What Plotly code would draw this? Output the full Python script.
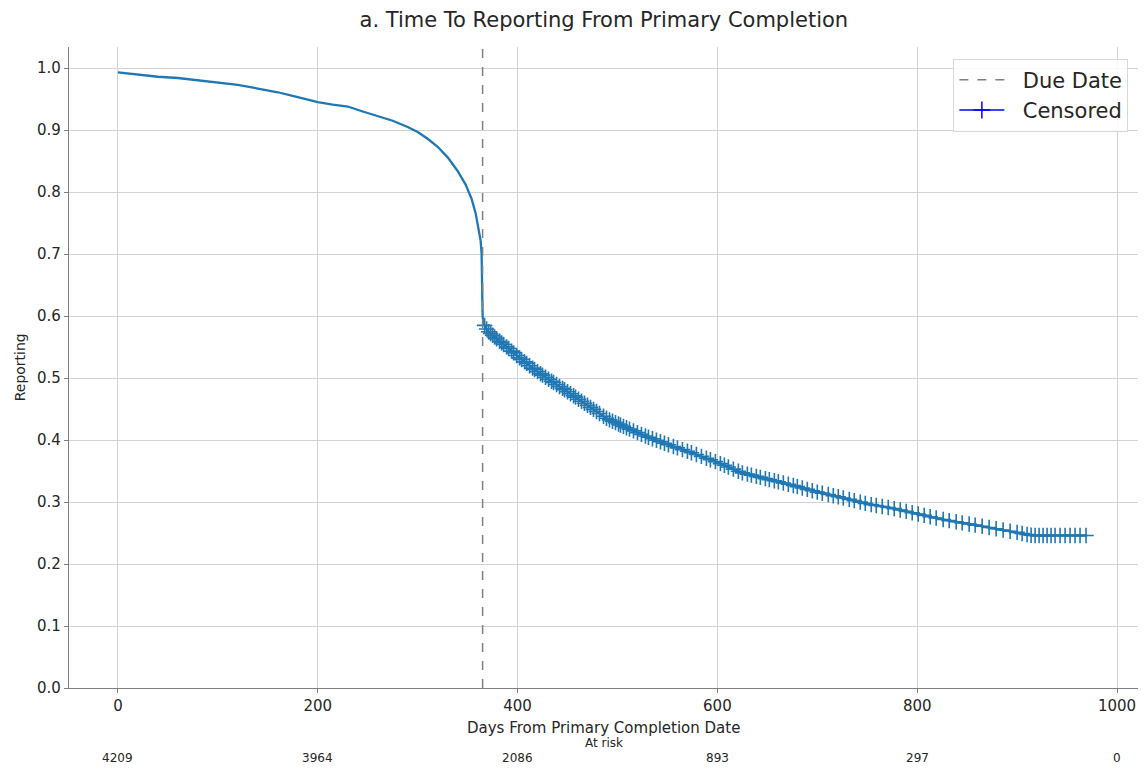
import numpy as np
import plotly.graph_objects as go

# Kaplan-Meier estimate of the share of trials not yet reporting
days = [0, 10, 25, 40, 60, 80, 100, 120, 140, 160, 180, 200, 215, 230, 245,
        260, 275, 290, 300, 310, 320, 330, 340, 348, 354, 358, 361, 363, 364,
        365, 366, 370, 380, 390, 400, 415, 430, 450, 470, 490, 510, 530, 550,
        575, 600, 625, 650, 675, 700, 725, 750, 775, 800, 825, 850, 875, 900,
        915, 930, 970]
reporting = [0.993, 0.991, 0.989, 0.986, 0.984, 0.980, 0.977, 0.973, 0.967,
             0.961, 0.953, 0.945, 0.941, 0.938, 0.930, 0.922, 0.915, 0.905,
             0.897, 0.886, 0.873, 0.856, 0.834, 0.812, 0.789, 0.766, 0.742,
             0.722, 0.700, 0.600, 0.588, 0.576, 0.562, 0.549, 0.535, 0.516,
             0.499, 0.478, 0.456, 0.434, 0.419, 0.405, 0.393, 0.379, 0.364,
             0.347, 0.337, 0.327, 0.316, 0.307, 0.297, 0.290, 0.281, 0.272,
             0.265, 0.258, 0.251, 0.246, 0.246, 0.246]

# Censoring times (days)
censored_days = [367, 369, 371, 373, 375, 377, 379, 382, 384, 386, 389, 391,
                 394, 396, 399, 402, 404, 407, 409, 412, 415, 417, 420, 423,
                 425, 428, 431, 434, 436, 439, 442, 445, 447, 450, 453, 456,
                 458, 461, 464, 467, 470, 473, 476, 479, 482, 486, 489, 492,
                 495, 498, 501, 503, 506, 509, 512, 516, 520, 524, 528, 531,
                 535, 539, 543, 547, 551, 556, 560, 565, 570, 574, 579, 584,
                 589, 593, 598, 603, 607, 611, 616, 621, 625, 630, 634, 639,
                 643, 648, 652, 657, 661, 666, 671, 676, 680, 685, 690, 695,
                 700, 705, 711, 716, 721, 726, 732, 737, 743, 748, 754, 759,
                 765, 771, 777, 783, 789, 795, 801, 807, 813, 819, 826, 832,
                 839, 845, 852, 858, 865, 872, 879, 886, 893, 900, 905, 910,
                 914, 918, 922, 926, 930, 934, 938, 943, 948, 953, 958, 963,
                 969]

due_date = 365

# Number at risk table
risk_days = [0, 200, 400, 600, 800, 1000]
risk_counts = [4209, 3964, 2086, 893, 297, 0]

x_range = [-49, 1021]
y_range = [0, 1.034]

C0 = "#1f77b4"
FONT = "DejaVu Sans"
TXT = "#262626"

censored_y = np.interp(censored_days, days, reporting)

fig = go.Figure()

fig.add_trace(go.Scatter(
    x=days, y=reporting, mode="lines",
    line=dict(color=C0, width=2.3), showlegend=False, hoverinfo="skip"))

fig.add_trace(go.Scatter(
    x=censored_days, y=censored_y, mode="markers",
    marker=dict(symbol="cross-thin", size=11, color=C0,
                line=dict(color=C0, width=1.6)),
    showlegend=False))

fig.add_trace(go.Scatter(
    x=[due_date, due_date], y=y_range, mode="lines",
    line=dict(color="#808080", width=1.5, dash="dash"),
    name="  Due Date"))

fig.add_trace(go.Scatter(
    x=[None], y=[None], mode="lines+markers",
    line=dict(color="blue", width=1.5),
    marker=dict(symbol="cross-thin", size=12, color="blue",
                line=dict(color="blue", width=1.5)),
    name="  Censored"))

annotations = [
    dict(x=d, y=-0.109, xref="x", yref="paper", text=str(c), showarrow=False,
         font=dict(family=FONT, size=12, color=TXT), yanchor="middle")
    for d, c in zip(risk_days, risk_counts)
]
annotations.append(dict(x=0.5, y=-0.086, xref="paper", yref="paper",
                        text="At risk", showarrow=False, yanchor="middle",
                        font=dict(family=FONT, size=12, color=TXT)))
annotations.append(dict(x=0.5, y=-0.063, xref="paper", yref="paper",
                        text="Days From Primary Completion Date",
                        showarrow=False, yanchor="middle",
                        font=dict(family=FONT, size=15, color=TXT)))
annotations.append(dict(x=-0.046, y=0.5, xref="paper", yref="paper",
                        text="Reporting", textangle=-90, showarrow=False,
                        xanchor="center", yanchor="middle",
                        font=dict(family=FONT, size=14, color=TXT)))

fig.update_layout(
    width=1148, height=773,
    margin=dict(l=69, r=10, t=47, b=85),
    paper_bgcolor="white", plot_bgcolor="white",
    font=dict(family=FONT, color=TXT),
    title=dict(text="a. Time To Reporting From Primary Completion",
               x=0.526, xanchor="center", y=0.974, yanchor="middle",
               font=dict(family=FONT, size=21, color=TXT)),
    legend=dict(x=0.991, y=0.982, xanchor="right", yanchor="top",
                bgcolor="rgba(255,255,255,0.85)", bordercolor="#d8d8d8",
                borderwidth=1, font=dict(family=FONT, size=21, color=TXT),
                itemwidth=45, tracegroupgap=2),
    annotations=annotations,
    showlegend=True,
)

fig.update_xaxes(
    range=x_range, tickvals=[0, 200, 400, 600, 800, 1000],
    showgrid=True, gridcolor="#d3d3d3", gridwidth=1,
    showline=True, linecolor="#7f7f7f", linewidth=1.2,
    ticks="outside", ticklen=4, tickcolor="#7f7f7f",
    tickfont=dict(family=FONT, size=15, color=TXT), zeroline=False)
fig.update_yaxes(
    range=y_range, tickvals=[round(0.1 * i, 1) for i in range(11)],
    tickformat=".1f",
    showgrid=True, gridcolor="#d3d3d3", gridwidth=1,
    showline=True, linecolor="#7f7f7f", linewidth=1.2,
    ticks="outside", ticklen=4, tickcolor="#7f7f7f",
    tickfont=dict(family=FONT, size=15, color=TXT), zeroline=False)

fig.write_html("out.html")
